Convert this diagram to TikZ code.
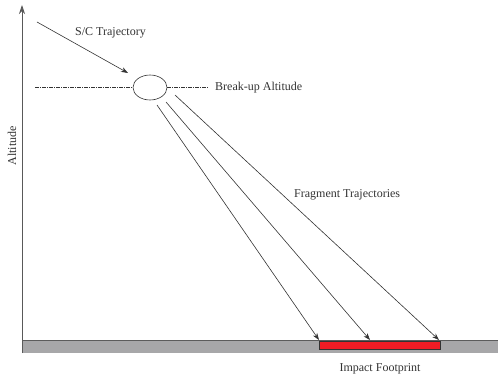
\documentclass[tikz,border=0pt]{standalone}
\usepackage{fontspec}
\setmainfont{Liberation Serif}
\usetikzlibrary{arrows.meta,shapes.geometric}
\definecolor{groundgray}{HTML}{A7A7A9}
\definecolor{footred}{HTML}{EE1C25}
\definecolor{inkgray}{HTML}{333333}
\tikzset{
  lbl/.style={font=\fontsize{12}{14}\selectfont, text=inkgray, inner sep=0pt},
  traj/.style={draw=inkgray, line width=0.6pt, -{Stealth[length=7pt,width=5pt]}},
  altline/.style={draw=inkgray, line width=0.5pt, dash pattern=on 4pt off 1pt on 1pt off 1pt}
}
\begin{document}
\begin{tikzpicture}[x=1pt,y=-1pt]
\useasboundingbox (0,0) rectangle (498,377);
% ground
\fill[groundgray] (22,340) rectangle (498,353);
\draw[inkgray!80, line width=0.8pt] (22,340) -- (498,340);
% axis
\coordinate (axbot) at (22,353);
\coordinate (axtop) at (22,5);
\draw[gray!70!black, line width=0.9pt, -{Stealth[length=9pt,width=6pt]}] (axbot) -- (axtop);
\node[lbl, rotate=90] (alt) at (12,146) {Altitude};
% footprint
\node[draw=inkgray, fill=footred, line width=0.6pt, minimum width=121pt, minimum height=8.5pt, inner sep=0pt, anchor=north west] (foot) at (319,340.5) {};
\node[lbl] (footlbl) at (380,369) {Impact Footprint};
% break-up ellipse
\node[draw=inkgray, line width=0.6pt, ellipse, minimum width=34pt, minimum height=25pt, inner sep=0pt] (bu) at (150,87.5) {};
\coordinate (dl) at (35,87.5);
\coordinate (dr) at (208,87.5);
\draw[altline] (dl) -- (bu.west);
\draw[altline] (bu.east) -- (dr);
\node[lbl, anchor=west] (bulbl) at (215,87.5) {Break-up Altitude};
% S/C trajectory
\coordinate (scstart) at (37,22);
\coordinate (scend) at (128,73);
\draw[traj] (scstart) -- (scend);
\node[lbl, anchor=west] (sclbl) at (75,33) {S/C Trajectory};
% fragment trajectories
\coordinate (f1s) at (157,105);
\coordinate (f2s) at (166,102);
\coordinate (f3s) at (175,95);
\coordinate (f1e) at (319,340);
\coordinate (f2e) at (370,340);
\coordinate (f3e) at (439,340);
\draw[traj] (f1s) -- (f1e);
\draw[traj] (f2s) -- (f2e);
\draw[traj] (f3s) -- (f3e);
\node[lbl, anchor=west] (fraglbl) at (294,195) {Fragment Trajectories};
\end{tikzpicture}
\end{document}
